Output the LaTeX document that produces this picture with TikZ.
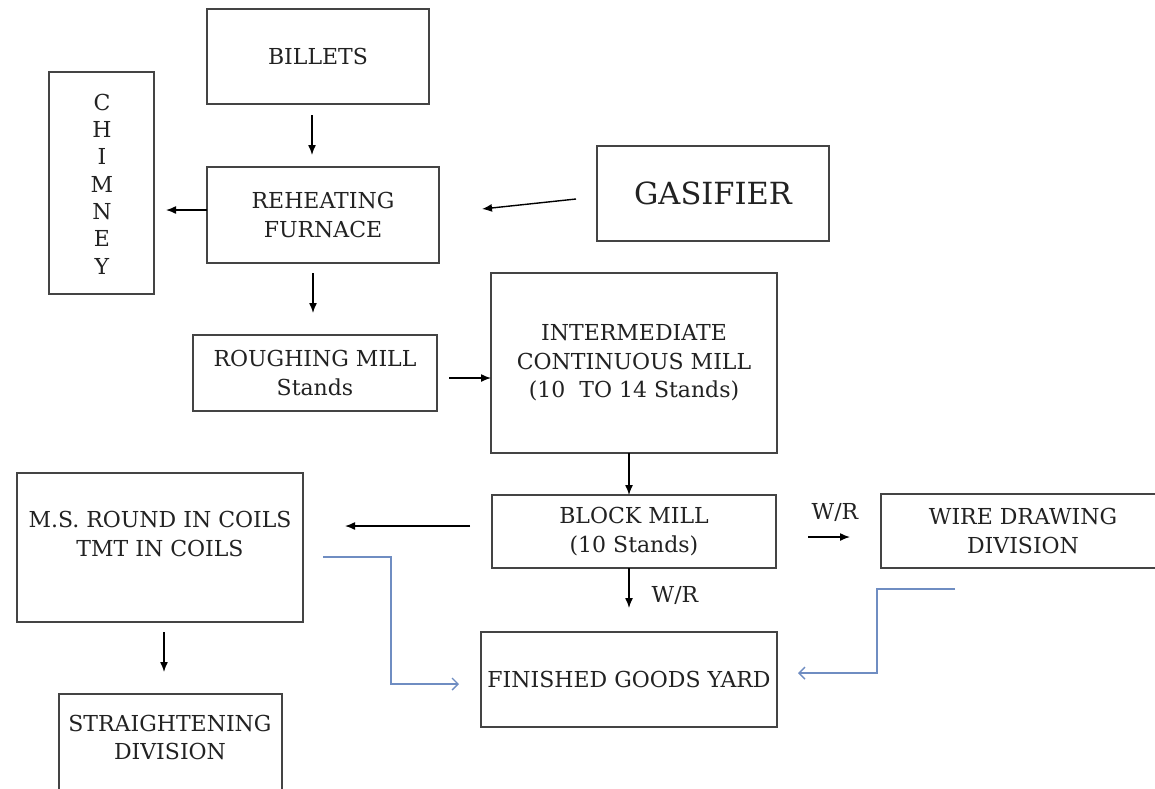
\documentclass[tikz,border=0pt]{standalone}
\usepackage{fontspec}
\setmainfont{DejaVu Serif}
\usetikzlibrary{arrows.meta}
\definecolor{boxline}{HTML}{444444}
\definecolor{flowblue}{HTML}{6F8DC2}
\definecolor{textgray}{HTML}{222222}
\tikzset{
  box/.style={draw=boxline, line width=2pt, rectangle, inner sep=0pt, outer sep=0pt, align=center,
    text=textgray, font=\fontsize{22}{28.5}\selectfont},
  txt/.style={inner sep=0pt, align=center, text=textgray, font=\fontsize{22}{28.5}\selectfont},
  arr/.style={line width=1.4pt, -{Latex[length=10pt,width=8pt]}},
  barr/.style={draw=flowblue, line width=1.4pt, -{Straight Barb[length=6pt,width=12pt,line width=1.4pt]}},
}
\begin{document}
\begin{tikzpicture}[x=1pt,y=-1pt]
\useasboundingbox (0,0) rectangle (1155,788);
\clip (0,0) rectangle (1155,788);
\fill[white] (0,0) rectangle (1155,788);
% boxes
\node[box, minimum width=222pt, minimum height=95pt] (billets) at (318,56.5) {BILLETS};
\node[box, minimum width=105pt, minimum height=222pt] (chimney) at (101.5,183) {};
\node[txt, font=\fontsize{22}{27.3}\selectfont] (chimneyT) at (102,184) {C\\H\\I\\M\\N\\E\\Y};
\node[box, minimum width=232pt, minimum height=96pt] (furnace) at (323,215) {REHEATING\\FURNACE};
\node[box, minimum width=232pt, minimum height=95pt, font=\fontsize{30.5}{36}\selectfont] (gasifier) at (713,193.5) {GASIFIER};
\node[box, minimum width=244pt, minimum height=76pt] (rough) at (315,373) {ROUGHING MILL\\Stands};
\node[box, minimum width=286pt, minimum height=180pt] (inter) at (634,363) {INTERMEDIATE\\CONTINUOUS MILL\\(10\ \ TO 14 Stands)};
\node[box, minimum width=284pt, minimum height=73pt] (block) at (634,531.5) {BLOCK MILL\\(10 Stands)};
\node[box, minimum width=286pt, minimum height=149pt] (ms) at (160,547.5) {};
\node[txt] (msT) at (160,534) {M.S. ROUND IN COILS\\TMT IN COILS};
\node[box, minimum width=289pt, minimum height=74pt] (wire) at (1025.5,531) {};
\node[txt] (wireT) at (1023,531) {WIRE DRAWING\\DIVISION};
\node[box, minimum width=296pt, minimum height=95pt] (fgy) at (629,679.5) {FINISHED GOODS YARD};
\node[box, minimum width=223pt, minimum height=106pt] (straight) at (170.5,747) {};
\node[txt] (straightT) at (170,737.5) {STRAIGHTENING\\DIVISION};
% labels
\node[txt] (wr1) at (835,512) {W/R};
\node[txt] (wr2) at (675,595) {W/R};
% black arrows
\draw[arr] ([xshift=-6pt,yshift=-11pt]billets.south) -- ([xshift=-11pt,yshift=12pt]furnace.north);
\draw[arr] ([yshift=5pt]furnace.west) -- ([xshift=12pt,yshift=-27pt]chimney.east);
\draw[arr] ([xshift=-21pt,yshift=-5.5pt]gasifier.west) -- ([xshift=43pt,yshift=6pt]furnace.east);
\draw[arr] ([xshift=-10pt,yshift=-10pt]furnace.south) -- ([xshift=-2pt,yshift=22pt]rough.north);
\draw[arr] ([xshift=12pt,yshift=-5pt]rough.east) -- ([yshift=-15pt]inter.west);
\draw[arr] ([xshift=-5pt]inter.south) -- ([xshift=-5pt]block.north);
\draw[arr] ([xshift=-22pt,yshift=5.5pt]block.west) -- ([xshift=42pt,yshift=21.5pt]ms.east);
\draw[arr] ([xshift=32pt,yshift=-5.5pt]block.east) -- ([xshift=-31pt,yshift=-6pt]wire.west);
\draw[arr] ([xshift=-5pt]block.south) -- ([yshift=24pt]fgy.north);
\draw[arr] ([xshift=4pt,yshift=-10pt]ms.south) -- ([xshift=-6.5pt,yshift=22pt]straight.north);
% blue arrows
\coordinate (b1) at (391,557);
\coordinate (b2) at (391,684);
\draw[barr] ([xshift=20pt,yshift=-9.5pt]ms.east) -- (b1) -- (b2) -- ([xshift=-22pt,yshift=-4.5pt]fgy.west);
\coordinate (c1) at (877,589);
\coordinate (c2) at (877,673);
\draw[barr] ([xshift=74pt,yshift=-21pt]wire.south west) -- (c1) -- (c2) -- ([xshift=21pt,yshift=6.5pt]fgy.east);
\end{tikzpicture}
\end{document}
